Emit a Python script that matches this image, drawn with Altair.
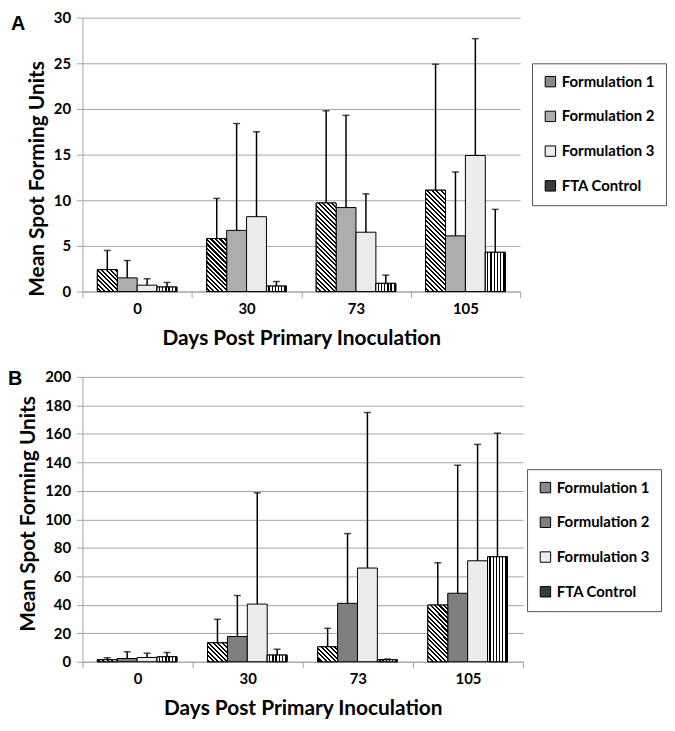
import math
import altair as alt
import pandas as pd

# ---------------- data ----------------
days = ["0", "30", "73", "105"]
series = ["Formulation 1", "Formulation 2", "Formulation 3", "FTA Control"]

# Panel A: means and upper end of error bars
a_f1 = [2.4, 5.8, 9.7, 11.1]
a_f2 = [1.5, 6.7, 9.2, 6.1]
a_f3 = [0.7, 8.2, 6.5, 14.9]
a_fta = [0.5, 0.6, 0.9, 4.3]
a_f1_top = [4.5, 10.2, 19.8, 24.9]
a_f2_top = [3.4, 18.4, 19.3, 13.1]
a_f3_top = [1.4, 17.5, 10.7, 27.7]
a_fta_top = [1.0, 1.1, 1.8, 9.0]

# Panel B
b_f1 = [1.4, 13.3, 10.5, 39.8]
b_f2 = [2.3, 17.7, 41.0, 48.1]
b_f3 = [3.0, 40.5, 65.8, 70.9]
b_fta = [3.5, 4.7, 1.4, 73.7]
b_f1_top = [2.8, 29.8, 23.5, 69.5]
b_f2_top = [7.0, 46.5, 90.0, 138.0]
b_f3_top = [6.0, 118.6, 175.0, 152.6]
b_fta_top = [6.5, 8.8, 1.9, 160.5]

# ---------------- style ----------------
FONT = "Lato"
OFFSET_PAD = 0.75
GRID = "#a3a3a3"


def table(means, tops):
    rows = []
    for s, m, t in zip(series, means, tops):
        for d, v, u in zip(days, m, t):
            rows.append({"day": d, "series": s, "mean": v, "top": u})
    return pd.DataFrame(rows)


def bar_width(width):
    return (width / len(days)) / (len(series) + 2 * OFFSET_PAD)


def hatch_gradient(w, h, period=3.2, line=1.5):
    """Diagonal '\\' hatch as a bounding-box linear gradient."""
    h = max(h, 1.0)
    k = h / w
    span = w * (1 + k * k) / math.sqrt(2)
    n = span / period
    stops = []
    i = 0
    while i < n:
        t0 = min(i / n, 1)
        t1 = min((i + line / period) / n, 1)
        t2 = min((i + 1) / n, 1)
        stops += [
            alt.GradientStop(color="black", offset=t0),
            alt.GradientStop(color="black", offset=t1),
            alt.GradientStop(color="white", offset=t1),
            alt.GradientStop(color="white", offset=t2),
        ]
        i += 1
    return alt.LinearGradient(gradient="linear", stops=stops, x1=0, y1=k, x2=1, y2=0)


def stripe_gradient(w, period=3.2, line=1.3):
    n = w / period
    stops = []
    i = 0
    while i < n:
        t0 = min(i / n, 1)
        t1 = min((i + line / period) / n, 1)
        t2 = min((i + 1) / n, 1)
        stops += [
            alt.GradientStop(color="white", offset=t0),
            alt.GradientStop(color="white", offset=t2 - (t1 - t0)),
            alt.GradientStop(color="black", offset=t2 - (t1 - t0)),
            alt.GradientStop(color="black", offset=t2),
        ]
        i += 1
    return alt.LinearGradient(gradient="linear", stops=stops, x1=0, y1=0, x2=1, y2=0)


def panel(means, tops, width, height, ymax, ystep, letter, letter_x, letter_y,
          colors, legend_x, legend_y, title_shift):
    df = table(means, tops)
    x = alt.X(
        "day:N",
        sort=days,
        scale=alt.Scale(domain=days, paddingInner=0, paddingOuter=0),
        axis=alt.Axis(
            title="Days Post Primary Inoculation",
            labelAngle=0,
            tickBand="extent",
            grid=False,
            labelPadding=4,
            titlePadding=11,
        ),
    )
    xo = alt.XOffset(
        "series:N",
        sort=series,
        scale=alt.Scale(domain=series, paddingInner=0, paddingOuter=OFFSET_PAD),
    )
    yaxis = alt.Axis(
        title="Mean Spot Forming Units",
        values=list(range(0, ymax + 1, ystep)),
        labelPadding=6,
        titlePadding=6,
        titleY=height / 2 + title_shift,
    )
    yscale = alt.Scale(domain=[0, ymax], nice=False)
    y = alt.Y("mean:Q", scale=yscale, axis=yaxis)

    base = alt.Chart(df)
    bars = base.mark_bar(stroke="black", strokeWidth=1).encode(
        x=x,
        xOffset=xo,
        y=y,
        color=alt.Color(
            "series:N",
            sort=series,
            scale=alt.Scale(domain=series, range=colors),
            legend=alt.Legend(
                title=None,
                orient="none",
                legendX=legend_x,
                legendY=legend_y,
                padding=11,
                rowPadding=19,
                strokeColor="#555555",
                fillColor="white",
                labelFont=FONT,
                labelFontSize=15,
                labelFontWeight="bold",
                labelColor="black",
                symbolType="square",
                symbolSize=110,
                symbolStrokeColor="black",
                symbolStrokeWidth=1,
                symbolOpacity=1,
                labelOffset=4,
            ),
        ),
    )
    layers = [bars]
    bw = bar_width(width)
    for d, m in zip(days, means[0]):
        h = m / ymax * height
        layers.append(
            base.transform_filter(
                (alt.datum.series == series[0]) & (alt.datum.day == d)
            )
            .mark_bar(fill=hatch_gradient(bw, h), stroke="black", strokeWidth=1)
            .encode(x=x, xOffset=xo, y=y)
        )
    layers.append(
        base.transform_filter(alt.datum.series == series[3])
        .mark_bar(fill=stripe_gradient(bw), stroke="black", strokeWidth=1)
        .encode(x=x, xOffset=xo, y=y)
    )
    rules = base.mark_rule(color="black", strokeWidth=1.5).encode(
        x=x, xOffset=xo, y=y, y2="top:Q"
    )
    caps = base.mark_tick(color="black", thickness=1.5, size=7).encode(
        x=x, xOffset=xo, y=alt.Y("top:Q", scale=yscale, axis=yaxis)
    )
    label = (
        alt.Chart(pd.DataFrame({"label": [letter]}))
        .mark_text(
            font="Liberation Sans",
            fontSize=20,
            fontWeight="bold",
            align="left",
            baseline="top",
            color="black",
        )
        .encode(text="label:N", x=alt.value(letter_x), y=alt.value(letter_y))
    )
    return alt.layer(*layers, rules, caps, label).properties(width=width, height=height)


colors_a = ["#8a8a8a", "#adadad", "#ececec", "#3a3a3a"]
colors_b = ["#8a8a8a", "#7f7f7f", "#ececec", "#3a3a3a"]

pa = panel(
    [a_f1, a_f2, a_f3, a_fta],
    [a_f1_top, a_f2_top, a_f3_top, a_fta_top],
    441, 276, 30, 5, "A", -72, -4, colors_a, 453, 46, 24,
)
pb = panel(
    [b_f1, b_f2, b_f3, b_fta],
    [b_f1_top, b_f2_top, b_f3_top, b_fta_top],
    444, 287, 200, 20, "B", -75, -8, colors_b, 448, 93, -6,
)

chart = (
    alt.vconcat(pa, pb, spacing=21)
    .resolve_scale(color="independent")
    .resolve_legend(color="independent")
    .configure(font=FONT, padding={"left": 0, "top": 0, "right": 0, "bottom": 0})
    .configure_view(stroke=None)
    .configure_axis(
        labelFont=FONT,
        labelFontSize=15,
        labelFontWeight="bold",
        labelColor="black",
        titleFont=FONT,
        titleFontSize=21,
        titleFontWeight="bold",
        titleColor="black",
        domainColor=GRID,
        tickColor=GRID,
        gridColor=GRID,
        tickSize=6,
    )
)

chart.save("out.html", embed_options={"renderer": "svg", "actions": False})
